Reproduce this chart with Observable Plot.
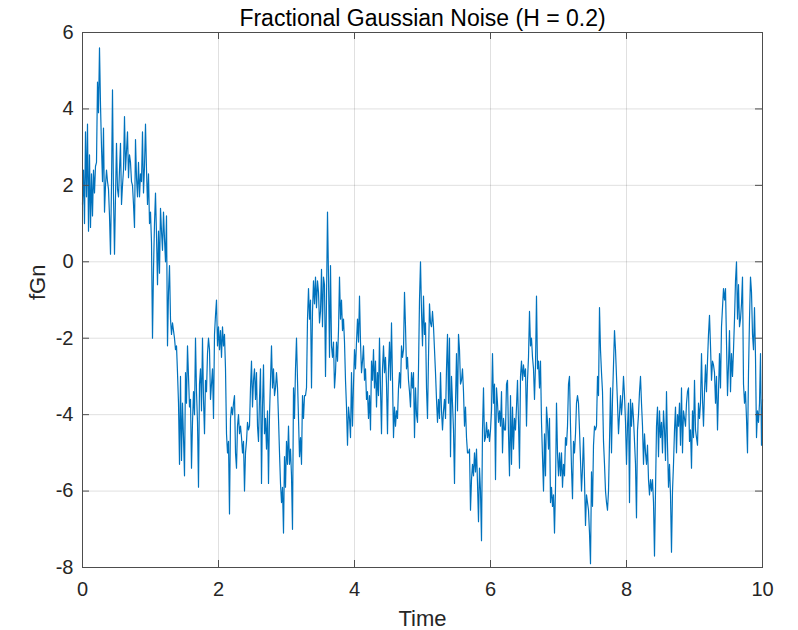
<!DOCTYPE html>
<html>
<head>
<meta charset="utf-8">
<script src="https://cdn.jsdelivr.net/npm/d3@7"></script>
<script src="https://cdn.jsdelivr.net/npm/@observablehq/plot@0.6"></script>
<style>
  html, body { margin: 0; padding: 0; background: #ffffff; }
  #chart svg { display: block; }
</style>
</head>
<body>
<div id="chart"></div>
<script>
// ---- Text ----
const titleText = "Fractional Gaussian Noise (H = 0.2)";
const xLabel = "Time";
const yLabel = "fGn";

// ---- Axes ----
const xTicks = [0, 2, 4, 6, 8, 10];
const yTicks = [-8, -6, -4, -2, 0, 2, 4, 6];
const tStart = 0;
const tEnd = 10;

// ---- fGn samples, evenly spaced in time from 0 to 10 ----
const fgnPart1 = [1.5,2.4,1.0,3.4,1.7,3.6,0.8,2.8,0.9,2.3,1.2,2.4,1.8,2.5,2.6,4.7,3.9,5.6,4.1,3.0,
  2.1,3.5,1.3,2.0,2.4,2.1,1.9,1.2,0.2,2.0,4.5,1.7,0.2,1.7,3.1,1.9,1.7,2.4,3.1,1.5,
  2.0,2.4,3.8,2.4,2.9,3.4,2.2,2.8,2.6,2.1,2.0,1.5,0.9,3.2,2.2,1.7,2.6,1.7,2.3,2.1,
  3.4,1.8,2.5,3.6,2.4,1.5,2.3,1.0,1.3,0.5,-2.0,-0.2,1.0,1.8,0.7,-0.6,0.8,-0.3,1.4,0.8,
  0.3,1.3,0.6,0.0,1.2];
const fgnPart2 = [-2.2,-0.8,-0.1,-1.5,-1.9,-1.6,-1.8,-2.0,-2.3,-2.2,
  -2.9,-3.7,-5.3,-3.0,-5.2,-3.7,-4.6,-5.6,-2.9,-3.7,
  -2.2,-3.0,-3.8,-3.6,-5.4,-4.2,-3.4,-4.0,-2.0,-3.4,
  -4.2,-5.9,-3.2,-2.8,-3.9,-2.0,-3.6,-4.5,-3.1,-3.4,
  -2.4,-2.0,-2.3,-3.6,-3.2,-2.8,-4.1,-1.9,-1.4,-1.0,
  -2.2,-1.7,-2.3,-1.8,-2.5,-1.7,-2.2,-1.9,-2.8,-4.5,
  -5.0,-4.7,-6.6,-4.1,-3.8,-4.0,-3.7,-3.5,-5.0,-5.4,
  -4.3,-4.0,-4.5,-4.3,-4.6,-5.0,-4.7,-6.0,-5.0,-4.7,
  -4.2,-4.4,-4.3];
const fgnPart3 = [-3.3,-2.6,-3.8,-3.1,-2.8,-3.6,-2.9,-4.3,-4.7,-3.6,
  -2.8,-5.8,-3.8,-2.7,-4.5,-4.1,-4.9,-3.9,-5.8,-4.0,
  -3.1,-2.2,-3.3,-2.8,-3.5,-3.3,-2.9,-3.3,-4.1,-5.0,
  -5.8,-6.3,-5.9,-7.1,-5.1,-5.9,-4.7,-5.3,-4.3,-5.3,
  -4.9,-5.6,-7.0,-3.3,-4.1,-2.8,-2.0,-3.1,-4.1,-5.1,
  -4.6,-5.3,-3.5,-4.1,-3.5,-3.5,-3.3,-1.5,-0.7,-1.5,
  -1.0,-3.3,-1.3,-0.5,-1.1,-0.4,-1.2,-0.5,-0.8,-1.6,
  -1.3,-0.2,-1.7,-0.4,-0.6,-3.0,-1.0,1.3,-0.4,-2.5,
  -0.1,-2.2,-2.5,-2.1,-3.3];
const fgnPart4 = [-2.9,-2.1,-2.6,-1.8,-0.4,-1.5,-1.0,-1.8,-1.5,-2.1,
  -3.1,-3.8,-4.8,-3.8,-4.1,-4.6,-2.9,-4.3,-3.2,-2.3,
  -2.8,-2.1,-1.5,-2.1,-0.9,-2.1,-2.9,-2.6,-2.2,-3.1,
  -2.8,-3.6,-3.4,-4.1,-3.5,-4.4,-2.6,-3.1,-2.3,-3.3,
  -2.6,-3.8,-2.9,-3.5,-2.0,-3.3,-4.5,-2.8,-2.2,-2.9,
  -2.5,-3.2,-4.5,-2.8,-2.1,-3.1,-1.6,-3.1,-4.6,-3.8,
  -4.3,-3.9,-4.1,-3.3,-2.9,-3.3,-2.2,-2.5,-2.3,-0.8,
  -1.7,-2.8,-2.5,-3.1,-3.4,-3.8,-2.9,-3.3,-2.9,-4.6,
  -3.3,-4.0,-4.2,-2.8,-1.0];
const fgnPart5 = [0.0,-1.3,-2.2,-0.9,-1.9,-1.6,-3.3,-4.1,-2.5,-1.1,
  -1.6,-1.7,-1.3,-1.7,-2.3,-2.9,-3.6,-4.2,-3.6,-4.1,
  -2.9,-3.9,-4.4,-3.9,-3.6,-4.1,-2.8,-1.9,-3.7,-2.0,
  -5.1,-3.0,-3.7,-4.4,-5.8,-3.7,-2.4,-3.9,-1.9,-2.3,
  -3.2,-3.1,-2.8,-3.4,-4.3,-3.8,-4.6,-5.0,-5.0,-4.9,
  -6.5,-5.7,-5.3,-5.6,-5.0,-5.5,-4.9,-5.8,-6.8,-5.4,
  -6.0,-7.3,-4.4,-3.3,-4.7,-4.6,-4.2,-4.6,-4.4,-4.7,
  -4.4,-3.9,-2.4,-3.7,-3.2,-5.7,-3.3,-3.7,-4.2,-3.9,
  -4.3,-3.4,-5.0,-4.1,-4.4];
const fgnPart6 = [-4.4,-3.2,-3.1,-4.5,-5.6,-3.5,-5.3,-3.8,-4.9,-4.1,
  -4.4,-3.8,-3.1,-4.2,-5.4,-3.0,-2.6,-3.1,-2.7,-3.0,
  -2.8,-4.3,-3.1,-2.5,-1.3,-2.2,-2.0,-2.5,-2.8,-3.6,
  -2.7,-0.9,-2.8,-2.6,-3.3,-2.6,-4.2,-5.1,-6.0,-4.5,
  -5.6,-3.8,-4.2,-4.9,-4.1,-6.3,-5.9,-6.4,-6.1,-7.1,
  -5.9,-3.7,-5.0,-5.6,-5.0,-5.6,-5.0,-5.9,-5.3,-5.6,
  -4.6,-4.8,-4.3,-3.2,-3.0,-4.3,-5.4,-6.2,-4.7,-5.0,
  -4.5,-3.7,-3.5,-3.7,-4.4,-5.2,-6.0,-5.4,-4.6,-5.7,
  -6.9,-6.1,-6.3,-6.5,-7.1];
const fgnPart7 = [-7.9,-5.5,-6.4,-4.8,-4.3,-4.4,-4.3,-3.0,-3.5,-1.2,
  -2.3,-2.9,-3.4,-4.7,-5.3,-6.0,-6.3,-6.5,-6.0,-4.7,
  -3.3,-5.0,-3.6,-2.7,-1.8,-2.3,-3.0,-3.7,-4.5,-4.0,
  -3.5,-4.0,-3.6,-3.0,-3.5,-4.2,-5.3,-4.3,-3.7,-6.3,
  -3.6,-4.3,-3.7,-4.1,-4.7,-5.3,-6.7,-4.4,-4.0,-3.4,
  -3.0,-3.7,-4.3,-5.3,-4.5,-5.0,-5.3,-4.8,-5.7,-6.1,
  -5.7,-6.0,-5.7,-6.3,-7.7,-6.0,-4.3,-3.8,-5.1,-3.9,
  -4.6,-4.2,-5.0,-3.9,-4.4,-5.2,-3.4,-4.8,-5.9,-5.3,
  -6.1,-7.6,-6.0,-5.3,-4.4];
const fgnPart8 = [-3.8,-5.0,-4.0,-4.3,-3.7,-4.8,-3.3,-5.0,-3.9,-4.1,
  -4.3,-3.7,-3.4,-3.3,-4.7,-4.4,-5.4,-3.9,-4.6,-3.1,
  -4.4,-4.6,-4.8,-3.7,-4.1,-3.7,-2.4,-3.6,-4.3,-3.4,
  -2.7,-3.4,-2.6,-1.9,-1.4,-2.2,-3.1,-2.6,-2.7,-2.9,
  -3.7,-3.0,-4.4,-3.4,-2.4,-3.3,-1.7,-1.2,-0.7,-1.0,
  -0.7,-2.1,-3.5,-2.7,-1.8,-3.4,-2.4,-3.0,-2.3,-1.5,
  -0.5,0.0,-1.5,-0.6,-1.7,-1.5,-1.1,-0.4,-3.2,-3.7,
  -3.4,-4.1,-5.0,-2.9,-1.5,-0.4,-0.8,-1.9,-2.3,-1.2,
  -2.5,-4.6,-3.9,-4.2,-3.7,-2.4,-4.8,-3.6];

const fgn = [].concat(fgnPart1, fgnPart2, fgnPart3, fgnPart4,
                      fgnPart5, fgnPart6, fgnPart7, fgnPart8);
const time = fgn.map((_, i) => tStart + i * (tEnd - tStart) / (fgn.length - 1));
const series = fgn.map((v, i) => ({t: time[i], v}));

// ---- Layout / style ----
const W = 798, H = 630;
const mL = 82, mR = 36, mT = 32, mB = 63;
const plotW = W - mL - mR, plotH = H - mT - mB;
const tickLen = 7;
const axisColor = "#4d4d4d";
const textColor = "#262626";
const font = "'Liberation Sans', Arial, Helvetica, sans-serif";

const chart = Plot.plot({
  width: W,
  height: H,
  marginLeft: mL,
  marginRight: mR,
  marginTop: mT,
  marginBottom: mB,
  style: {fontFamily: font, color: textColor, background: "#ffffff", overflow: "visible"},
  x: {domain: [tStart, tEnd]},
  y: {domain: [-8, 6]},
  marks: [
    Plot.gridX(xTicks, {stroke: "#262626", strokeOpacity: 0.14, strokeWidth: 1}),
    Plot.gridY(yTicks, {stroke: "#262626", strokeOpacity: 0.14, strokeWidth: 1}),
    Plot.line(series, {x: "t", y: "v", stroke: "#0072BD", strokeWidth: 1.2}),
    // inward tick marks on all four sides
    Plot.tickX(xTicks, {x: d => d, stroke: axisColor, insetTop: plotH - tickLen}),
    Plot.tickX(xTicks, {x: d => d, stroke: axisColor, insetBottom: plotH - tickLen}),
    Plot.tickY(yTicks, {y: d => d, stroke: axisColor, insetRight: plotW - tickLen}),
    Plot.tickY(yTicks, {y: d => d, stroke: axisColor, insetLeft: plotW - tickLen}),
    Plot.frame({stroke: axisColor, strokeWidth: 1}),
    Plot.axisX(xTicks, {tickSize: 0, tickPadding: 14, fontSize: 20, fill: textColor,
                        tickFormat: d => String(d), label: null}),
    Plot.axisY(yTicks, {tickSize: 0, tickPadding: 9, fontSize: 20, fill: textColor,
                        tickFormat: d => String(d), label: null}),
    Plot.text([titleText], {frameAnchor: "top", lineAnchor: "middle", dy: -14, fontSize: 23, fill: "#000000"}),
    Plot.text([xLabel], {frameAnchor: "bottom", lineAnchor: "middle", dy: 51, fontSize: 22, fill: textColor}),
    Plot.text([yLabel], {frameAnchor: "left", lineAnchor: "middle", dx: -45, rotate: -90, fontSize: 22, fill: textColor})
  ]
});
document.getElementById("chart").appendChild(chart);
</script>
</body>
</html>
